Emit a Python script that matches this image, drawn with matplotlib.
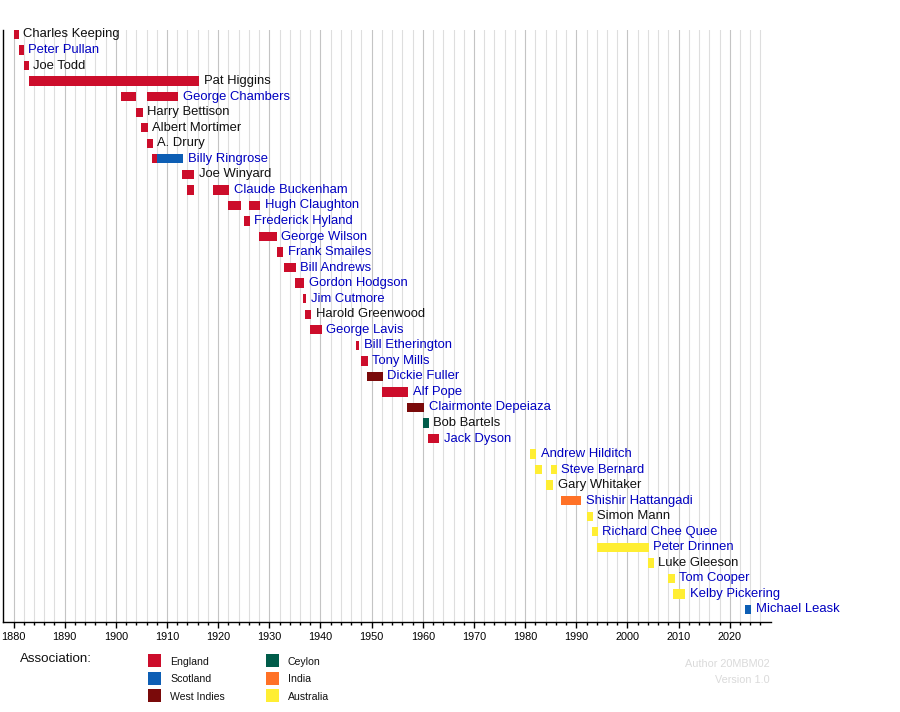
import numpy as np
import matplotlib.pyplot as plt
from matplotlib.patches import Rectangle
from matplotlib import font_manager

# =========================
# Data: captains and their spans (start year, end year, association)
# =========================
names = [
    "Charles Keeping", "Peter Pullan", "Joe Todd", "Pat Higgins", "George Chambers",
    "Harry Bettison", "Albert Mortimer", "A. Drury", "Billy Ringrose", "Joe Winyard",
    "Claude Buckenham", "Hugh Claughton", "Frederick Hyland", "George Wilson",
    "Frank Smailes", "Bill Andrews", "Gordon Hodgson", "Jim Cutmore", "Harold Greenwood",
    "George Lavis", "Bill Etherington", "Tony Mills", "Dickie Fuller", "Alf Pope",
    "Clairmonte Depeiaza", "Bob Bartels", "Jack Dyson", "Andrew Hilditch",
    "Steve Bernard", "Gary Whitaker", "Shishir Hattangadi", "Simon Mann",
    "Richard Chee Quee", "Peter Drinnen", "Luke Gleeson", "Tom Cooper",
    "Kelby Pickering", "Michael Leask",
]

# names shown as links (blue) in the original
linked = [
    False, True, False, False, True,
    False, False, False, True, False,
    True, True, True, True,
    True, True, True, True, False,
    True, True, True, True, True,
    True, False, True, True,
    True, False, True, False,
    True, True, False, True,
    True, True,
]

spans = [
    [(1880, 1881, "ENG")],
    [(1881, 1882, "ENG")],
    [(1882, 1883, "ENG")],
    [(1883, 1916.3, "ENG")],
    [(1901, 1904, "ENG"), (1906, 1912.2, "ENG")],
    [(1904, 1905.3, "ENG")],
    [(1905, 1906.2, "ENG")],
    [(1906, 1907.2, "ENG")],
    [(1907, 1908, "ENG"), (1908, 1913.2, "SCO")],
    [(1913, 1915.3, "ENG")],
    [(1914, 1915.2, "ENG"), (1919, 1922.2, "ENG")],
    [(1922, 1924.4, "ENG"), (1926, 1928.2, "ENG")],
    [(1925, 1926.2, "ENG")],
    [(1928, 1931.5, "ENG")],
    [(1931.5, 1932.7, "ENG")],
    [(1932.9, 1935.2, "ENG")],
    [(1935, 1936.8, "ENG")],
    [(1936.6, 1937.2, "ENG")],
    [(1937, 1938.2, "ENG")],
    [(1938, 1940.3, "ENG")],
    [(1947, 1947.6, "ENG")],
    [(1948, 1949.2, "ENG")],
    [(1949, 1952.2, "WI")],
    [(1952, 1957.2, "ENG")],
    [(1957, 1960.3, "WI")],
    [(1960, 1961.2, "CEY")],
    [(1961, 1963.2, "ENG")],
    [(1981, 1982.2, "AUS")],
    [(1982, 1983.2, "AUS"), (1985, 1986.2, "AUS")],
    [(1984, 1985.5, "AUS")],
    [(1987, 1991, "IND")],
    [(1992, 1993.2, "AUS")],
    [(1993, 1994.2, "AUS")],
    [(1994, 2004.2, "AUS")],
    [(2004, 2005.2, "AUS")],
    [(2008, 2009.2, "AUS")],
    [(2009, 2011.3, "AUS")],
    [(2023, 2024.2, "SCO")],
]

assoc_keys = ["ENG", "SCO", "WI", "CEY", "IND", "AUS"]
assoc_labels = ["England", "Scotland", "West Indies", "Ceylon", "India", "Australia"]
assoc_colors = ["#cc0d2b", "#0d5eb4", "#7a0a0a", "#005c4a", "#ff7126", "#ffee33"]
color_of = dict(zip(assoc_keys, assoc_colors))

year_min, year_max = 1878, 2028
major_years = np.arange(1880, 2021, 10)
minor_years = np.arange(1880, 2028, 2)

# font setup (narrow font for axis/legend if present)
available = {f.name for f in font_manager.fontManager.ttflist}
narrow = "Liberation Sans Narrow" if "Liberation Sans Narrow" in available else "Liberation Sans"
plt.rcParams["font.family"] = ["Liberation Sans", "DejaVu Sans"]

W, H = 900, 712
fig = plt.figure(figsize=(9, 7.12), dpi=100)

# plot area in pixels: x 3.3..770.7, y 29..622
left_px, right_px, top_px, bot_px = 3.3, 770.7, 30, 622
ax = fig.add_axes([left_px / W, 1 - bot_px / H,
                   (right_px - left_px) / W, (bot_px - top_px) / H])

n = len(names)
row_px = 15.54
row0_px = 34.5
y_top = -(row0_px - top_px) / row_px
y_bot = (n - 1) + (bot_px - (row0_px + row_px * (n - 1))) / row_px
ax.set_xlim(year_min, year_max)
ax.set_ylim(y_bot, y_top)

# vertical grid lines
for yr in minor_years:
    c = "#c4c4c4" if yr % 10 == 0 else "#dedede"
    ax.axvline(yr, color=c, lw=0.8, zorder=0)

bar_h = 0.6
for i, (name, row) in enumerate(zip(names, spans)):
    for (s, e, a) in row:
        ax.add_patch(Rectangle((s, i - bar_h / 2), e - s, bar_h,
                               facecolor=color_of[a], edgecolor="none", zorder=2))
    end = max(e for (_, e, _) in row)
    ax.annotate(name, xy=(end, i), xytext=(3.2, 0), textcoords="offset points",
                ha="left", va="center", fontsize=9.4,
                color="#0000c0" if linked[i] else "#111111", zorder=3)

# axes styling
for side in ["top", "right"]:
    ax.spines[side].set_visible(False)
ax.spines["left"].set_linewidth(1.0)
ax.spines["bottom"].set_linewidth(1.0)
ax.set_yticks([])
ax.set_xticks(major_years)
ax.set_xticks(minor_years, minor=True)
ax.set_xticklabels([str(y) for y in major_years])
ax.tick_params(axis="x", which="major", direction="out", length=4.5, width=1,
               pad=3, labelsize=7.8)
ax.tick_params(axis="x", which="minor", direction="out", length=2.3, width=1)
for lbl in ax.get_xticklabels():
    lbl.set_fontfamily(narrow)
ax.set_facecolor("none")

# legend
fig.text(20 / W, 1 - 659 / H, "Association:", fontsize=9.6, family=narrow,
         va="center", ha="left", color="#111111")
box_x = [148, 148, 148, 266, 266, 266]
box_y = [654, 671.5, 689, 654, 671.5, 689]
for bx, by, lab, col in zip(box_x, box_y, assoc_labels, assoc_colors):
    fig.patches.append(Rectangle((bx / W, 1 - (by + 13) / H), 13 / W, 13 / H,
                                 transform=fig.transFigure, facecolor=col,
                                 edgecolor="none"))
    fig.text((bx + 22) / W, 1 - (by + 8) / H, lab, fontsize=7.6, family=narrow,
             va="center", ha="left", color="#111111")

fig.text(770 / W, 1 - 664 / H, "Author 20MBM02", fontsize=7.8, family=narrow,
         ha="right", va="center", color="#dadada")
fig.text(770 / W, 1 - 680 / H, "Version 1.0", fontsize=7.8, family=narrow,
         ha="right", va="center", color="#dadada")

fig.savefig("out.png", dpi=100)
